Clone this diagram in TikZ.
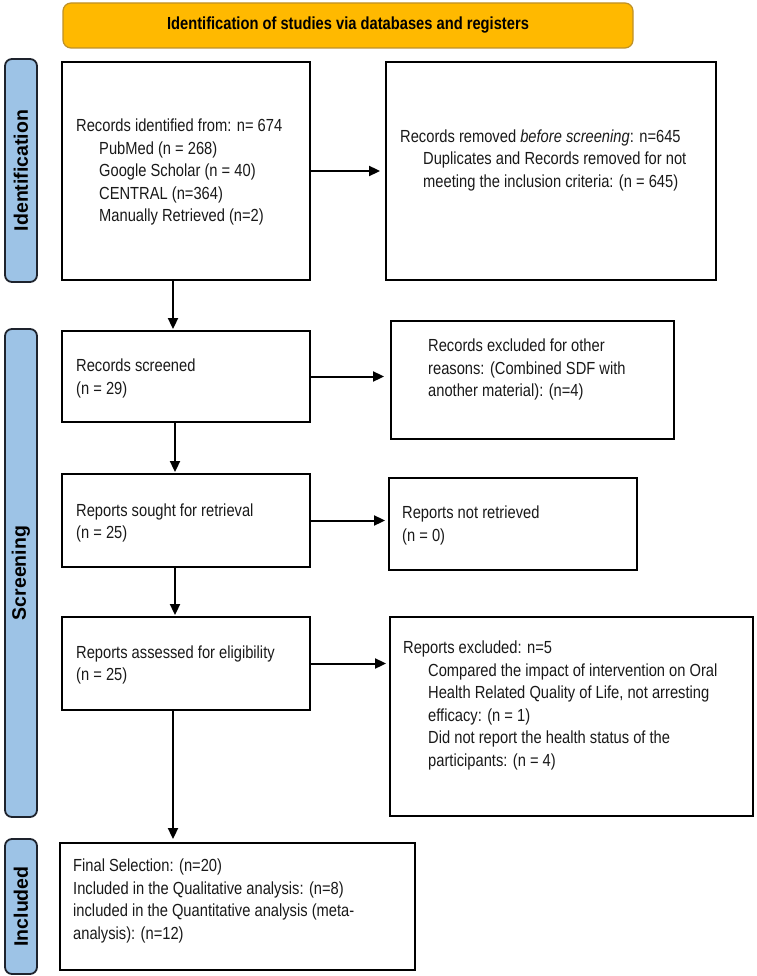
\documentclass[tikz,border=0pt]{standalone}
\usepackage{fontspec}
\setmainfont{Liberation Sans}[FakeStretch=0.84]
\newfontfamily\sidefont{Liberation Sans}
\usetikzlibrary{arrows.meta}
\definecolor{bannerfill}{RGB}{255,185,0}
\definecolor{bannerdraw}{RGB}{190,145,40}
\definecolor{sidefill}{RGB}{157,195,230}
\definecolor{sidedraw}{RGB}{30,35,45}
\begin{document}
\begin{tikzpicture}[x=1pt,y=-1pt,
  txt/.style={anchor=west, align=left, inner sep=0pt, text=black!90, font=\fontsize{17.5}{22.5}\selectfont},
  box/.style={draw=black, line width=1.9pt, inner sep=0pt},
  side/.style={draw=sidedraw, fill=sidefill, line width=1.8pt, rounded corners=7pt, minimum width=32pt, inner sep=0pt},
  sidelabel/.style={rotate=90, inner sep=0pt, font=\sidefont\bfseries\fontsize{19.5}{22}\selectfont},
  arr/.style={-{Triangle[length=11pt,width=10pt]}, line width=2pt},
]
\useasboundingbox (0,0) rectangle (756,976);

% banner
\node[draw=bannerdraw, fill=bannerfill, line width=1.2pt, rounded corners=8pt,
      minimum width=570pt, minimum height=45pt, inner sep=0pt,
      font=\bfseries\fontsize{17.5}{22.5}\selectfont] (banner) at (348,25.5)
      {Identification of studies via databases and registers};

% side bars
\node[side, minimum height=223pt] (sid) at (21,170.5) {};
\node[sidelabel] (sidl) at (sid.center) {Identification};
\node[side, minimum height=488pt] (sscr) at (21,573) {};
\node[sidelabel] (sscrl) at (sscr.center) {Screening};
\node[side, minimum height=135pt] (sinc) at (21,906.5) {};
\node[sidelabel] (sincl) at (sinc.center) {Included};

% boxes
\node[box, minimum width=248pt, minimum height=218pt] (b1) at (186,171) {};
\node[box, minimum width=330pt, minimum height=218pt] (b2) at (551,171) {};
\node[box, minimum width=248pt, minimum height=91pt] (b3) at (186,376.5) {};
\node[box, minimum width=283pt, minimum height=118pt] (b4) at (532.5,380) {};
\node[box, minimum width=248pt, minimum height=93pt] (bs) at (186,520.5) {};
\node[box, minimum width=248pt, minimum height=92pt] (b5) at (513,524) {};
\node[box, minimum width=248pt, minimum height=93pt] (ba) at (186,663.5) {};
\node[box, minimum width=363pt, minimum height=199pt] (bx) at (571.5,716.5) {};
\node[box, minimum width=355pt, minimum height=127pt] (bf) at (237.5,906.5) {};

% texts
\node[txt] (t1) at (76,172) {Records identified from: n= 674\\
  \hspace*{23pt}PubMed (n = 268)\\
  \hspace*{23pt}Google Scholar (n = 40)\\
  \hspace*{23pt}CENTRAL (n=364)\\
  \hspace*{23pt}Manually Retrieved (n=2)};
\node[txt] (t2) at (400,160) {Records removed \textit{before screening}: n=645\\
  \hspace*{23pt}Duplicates and Records removed for not\\
  \hspace*{23pt}meeting the inclusion criteria: (n = 645)};
\node[txt] (t3) at (76,378.5) {Records screened\\(n = 29)};
\node[txt] (t4) at (428,369.5) {Records excluded for other\\reasons: (Combined SDF with\\another material): (n=4)};
\node[txt] (ts) at (76,523) {Reports sought for retrieval\\(n = 25)};
\node[txt] (t5) at (402,525.5) {Reports not retrieved\\(n = 0)};
\node[txt] (ta) at (76,665) {Reports assessed for eligibility\\(n = 25)};
\node[txt] (tx) at (403,705.5) {Reports excluded: n=5\\
  \hspace*{25pt}Compared the impact of intervention on Oral\\
  \hspace*{25pt}Health Related Quality of Life, not arresting\\
  \hspace*{25pt}efficacy: (n = 1)\\
  \hspace*{25pt}Did not report the health status of the\\
  \hspace*{25pt}participants: (n = 4)};
\node[txt] (tf) at (73,901) {Final Selection: (n=20)\\
  Included in the Qualitative analysis: (n=8)\\
  included in the Quantitative analysis (meta-\\
  analysis): (n=12)};

% connectors
\coordinate (c1) at (173,0);
\coordinate (c2) at (175,0);
\draw[arr, shorten >=5pt] (b1.east) -- (b2.west |- b1.east);
\draw[arr, shorten >=1pt] (b1.south -| c1) -- (b3.north -| c1);
\draw[arr, shorten >=6pt] (b3.east) -- (b4.west |- b3.east);
\draw[arr, shorten >=1pt] (b3.south -| c2) -- (bs.north -| c2);
\draw[arr, shorten >=3pt] (bs.east) -- (b5.west |- bs.east);
\draw[arr, shorten >=1pt] (bs.south -| c2) -- (ba.north -| c2);
\draw[arr, shorten >=3pt] (ba.east) -- (bx.west |- ba.east);
\draw[arr, shorten >=3pt] (ba.south -| c1) -- (bf.north -| c1);
\end{tikzpicture}
\end{document}
